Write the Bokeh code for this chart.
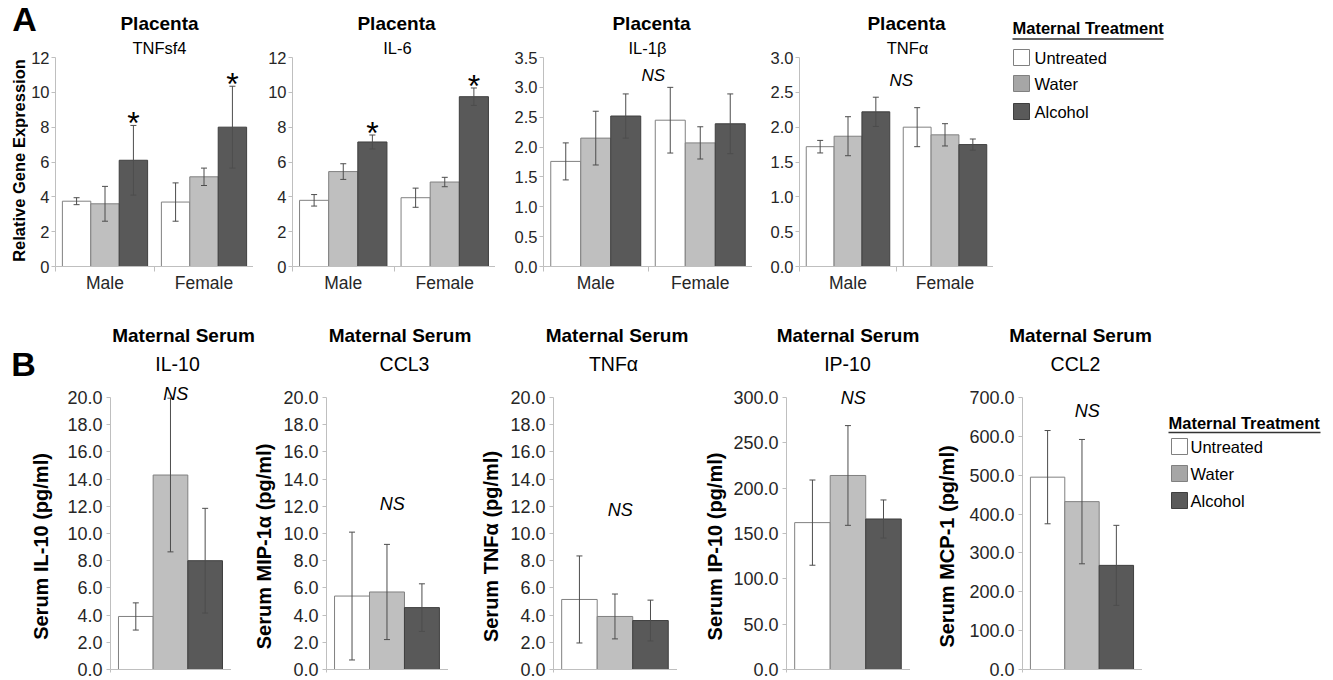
import math
from bokeh.plotting import figure
from bokeh.models import (ColumnDataSource, Whisker, TeeHead, Label, Range1d,
                          FixedTicker, PrintfTickFormatter)
from bokeh.layouts import row, column
from bokeh.embed import file_html
from bokeh.resources import INLINE
from bokeh.core.properties import value

# ---------------- data ----------------
treatments = ["Untreated", "Water", "Alcohol"]
sexes = ["Male", "Female"]

# Placenta, relative gene expression; order Male(U,W,A), Female(U,W,A)
placenta_genes = ["TNFsf4", "IL-6", "IL-1β", "TNFα"]
tnfsf4_mean = [3.75, 3.6, 6.1, 3.7, 5.15, 8.0]
tnfsf4_err = [0.2, 1.0, 2.0, 1.1, 0.5, 2.35]
il6_mean = [3.8, 5.45, 7.15, 3.95, 4.85, 9.75]
il6_err = [0.33, 0.45, 0.4, 0.55, 0.27, 0.5]
il1b_mean = [1.76, 2.15, 2.52, 2.45, 2.07, 2.39]
il1b_err = [0.31, 0.45, 0.37, 0.55, 0.27, 0.5]
tnfa_plac_mean = [1.72, 1.87, 2.22, 2.0, 1.89, 1.75]
tnfa_plac_err = [0.09, 0.28, 0.21, 0.28, 0.16, 0.08]
placenta_sig = [
    [False, False, True, False, False, True],
    [False, False, True, False, False, True],
    [False] * 6,
    [False] * 6,
]
placenta_ns = [False, False, True, True]
placenta_yticks = [
    [0, 2, 4, 6, 8, 10, 12],
    [0, 2, 4, 6, 8, 10, 12],
    [0.0, 0.5, 1.0, 1.5, 2.0, 2.5, 3.0, 3.5],
    [0.0, 0.5, 1.0, 1.5, 2.0, 2.5, 3.0],
]
placenta_fmt = ["%d", "%d", "%.1f", "%.1f"]
placenta_ylabel = "Relative Gene Expression"

# Maternal serum (pg/ml); order U, W, A
serum_cytokines = ["IL-10", "CCL3", "TNFα", "IP-10", "CCL2"]
serum_ylabels = ["Serum IL-10 (pg/ml)", "Serum MIP-1α (pg/ml)", "Serum TNFα (pg/ml)",
                 "Serum IP-10 (pg/ml)", "Serum MCP-1 (pg/ml)"]
il10_mean = [3.9, 14.3, 8.0]
il10_err = [1.0, 5.65, 3.85]
ccl3_mean = [5.4, 5.7, 4.55]
ccl3_err = [4.7, 3.5, 1.75]
tnfa_serum_mean = [5.15, 3.9, 3.6]
tnfa_serum_err = [3.2, 1.65, 1.5]
ip10_mean = [162, 214, 166]
ip10_err = [47, 55, 21]
ccl2_mean = [495, 432, 268]
ccl2_err = [120, 160, 103]
serum_yticks = [
    [0, 2, 4, 6, 8, 10, 12, 14, 16, 18, 20],
    [0, 2, 4, 6, 8, 10, 12, 14, 16, 18, 20],
    [0, 2, 4, 6, 8, 10, 12, 14, 16, 18, 20],
    [0, 50, 100, 150, 200, 250, 300],
    [0, 100, 200, 300, 400, 500, 600, 700],
]
legend_title = "Maternal Treatment"

# ---------------- styles / layout (pixels) ----------------
FONT = "Liberation Sans"
bar_fill = ["#ffffff", "#bfbfbf", "#595959"]
bar_line = ["#808080", "#808080", "#3f3f3f"]
legend_fill = ["#ffffff", "#a6a6a6", "#5a5a5a"]
err_color = "#4d4d4d"
axis_color = "#bfbfbf"
tick_text = "#262626"
PAGE_W = 1330

HEAD_A_H = 37
ROWA_TOP, ROWA_FB, ROWA_H, ROWA_BB, TICKTOP_A = 37, 266, 263, 34, 57
STRIP_A = 28
top_frames = [(25, 200), (39, 203), (48, 209), (47, 194)]   # (left border, frame width)
top_title_x = [159, 396, 651, 906]
top_sub_dx = [104, 105, 104, 108]
top_ns_y = [None, None, 3.2, 2.67]
BW = 0.287

HEAD_B_TOP, HEAD_B_H = 300, 83
ROWB_TOP, ROWB_FB, ROWB_BB, TICKTOP_B = 383, 669, 10, 397
ROWB_H = ROWB_FB - ROWB_TOP + ROWB_BB
strips_b = [55, 49, 57, 53, 55]
bot_frames = [(55, 121), (46, 122), (48, 124), (55, 125), (57, 120)]
bot_title_x = [183, 399.5, 616.5, 847.5, 1080]
bot_sub_x = [177, 404, 613, 847, 1075]
bot_ylabel_x = [40, 263, 490, 714, 946]
bot_ns_y = [20.25, 12.2, 11.7, 300, 664]
BOT_XR = (-0.73, 2.76)


def txt(p, xs, ys, texts, size, style="normal", align="center", angle=0.0, color="#000000"):
    p.text(x=xs, y=ys, text=texts, text_font=value(FONT), text_font_size=size,
           text_font_style=style, text_align=align, text_baseline="middle",
           angle=angle, text_color=color)


def blank_fig(x0, width, top, fb, height, bb):
    """figure whose frame spans its full width; x = page x, y = fb - page y"""
    p = figure(width=width, height=height, x_range=Range1d(x0, x0 + width),
               y_range=Range1d(0, fb - top), output_backend="svg", toolbar_location=None,
               min_border_left=0, min_border_right=0, min_border_top=0,
               min_border_bottom=bb, outline_line_color=None,
               x_axis_location=None, y_axis_location=None)
    p.grid.visible = False
    return p


def style_axes(p, tick_size):
    for ax in p.axis:
        ax.axis_line_color = axis_color
        ax.major_tick_line_color = axis_color
        ax.minor_tick_line_color = axis_color
        ax.major_label_text_font = FONT
        ax.major_label_text_color = tick_text
        ax.major_label_text_font_size = tick_size


def add_whiskers(p, src):
    w = Whisker(base="x", upper="upper", lower="lower", source=src,
                line_color=err_color, line_width=1, level="annotation",
                upper_head=TeeHead(size=6, line_color=err_color, line_width=1),
                lower_head=TeeHead(size=6, line_color=err_color, line_width=1))
    p.add_layout(w)


def placenta_panel(i, means, errs):
    L, FW = top_frames[i]
    ticks = placenta_yticks[i]
    yend = ticks[-1] * (ROWA_FB - ROWA_TOP) / (ROWA_FB - TICKTOP_A)
    p = figure(width=L + FW, height=ROWA_H, x_range=Range1d(0, len(sexes)),
               y_range=Range1d(0, yend), output_backend="svg", toolbar_location=None,
               min_border_left=L, min_border_right=0, min_border_top=0,
               min_border_bottom=ROWA_BB, outline_line_color=None)
    p.grid.visible = False
    xs = [g + 0.5 + (t - 1) * BW for g in range(len(sexes)) for t in range(len(treatments))]
    src = ColumnDataSource(dict(
        x=xs, top=means,
        upper=[m + e for m, e in zip(means, errs)],
        lower=[m - e for m, e in zip(means, errs)],
        fill=bar_fill * len(sexes), line=bar_line * len(sexes)))
    p.vbar(x="x", top="top", bottom=0, width=BW, fill_color="fill", line_color="line",
           line_width=1, source=src)
    add_whiskers(p, src)
    sig = placenta_sig[i]
    sx = [x for x, s in zip(xs, sig) if s]
    sy = [m + e for m, e, s in zip(means, errs, sig) if s]
    if sx:
        p.text(x=sx, y=sy, text=["*"] * len(sx), text_font=value(FONT),
               text_font_size="32px", text_align="center", text_baseline="alphabetic",
               y_offset=-2, text_color="#000000")
    p.yaxis.ticker = FixedTicker(ticks=ticks)
    p.yaxis.formatter = PrintfTickFormatter(format=placenta_fmt[i])
    p.yaxis.bounds = (0, ticks[-1])
    p.yaxis.major_tick_out = 4
    p.yaxis.major_tick_in = 0
    p.yaxis.minor_tick_out = 0
    p.yaxis.minor_tick_in = 0
    p.yaxis.major_label_standoff = 2
    centers = [g + 0.5 for g in range(len(sexes))]
    p.xaxis.ticker = FixedTicker(ticks=centers, minor_ticks=list(range(len(sexes) + 1)))
    p.xaxis.major_label_overrides = {c: s for c, s in zip(centers, sexes)}
    p.xaxis.major_tick_out = 0
    p.xaxis.major_tick_in = 0
    p.xaxis.minor_tick_out = 5
    p.xaxis.minor_tick_in = 0
    p.xaxis.major_label_standoff = 1
    style_axes(p, "16.5px")
    p.xaxis.major_label_text_font_size = "17.5px"
    p.add_layout(Label(x=top_sub_dx[i], y=ROWA_FB - 47, x_units="screen", y_units="screen",
                       text=placenta_genes[i], text_font=FONT, text_font_size="16.5px",
                       text_align="center", text_baseline="middle", text_color="#000000"))
    if placenta_ns[i]:
        p.add_layout(Label(x=1.05, y=top_ns_y[i], text="NS", text_font=FONT,
                           text_font_size="17px", text_font_style="italic",
                           text_align="center", text_baseline="middle", text_color="#000000"))
    return p


def serum_panel(i, means, errs):
    L, FW = bot_frames[i]
    ticks = serum_yticks[i]
    yend = ticks[-1] * (ROWB_FB - ROWB_TOP) / (ROWB_FB - TICKTOP_B)
    p = figure(width=L + FW, height=ROWB_H, x_range=Range1d(*BOT_XR),
               y_range=Range1d(0, yend), output_backend="svg", toolbar_location=None,
               min_border_left=L, min_border_right=0, min_border_top=0,
               min_border_bottom=ROWB_BB, outline_line_color=None)
    p.grid.visible = False
    xs = list(range(len(treatments)))
    src = ColumnDataSource(dict(
        x=xs, top=means,
        upper=[m + e for m, e in zip(means, errs)],
        lower=[m - e for m, e in zip(means, errs)],
        fill=bar_fill, line=bar_line))
    p.vbar(x="x", top="top", bottom=0, width=1.0, fill_color="fill", line_color="line",
           line_width=1, source=src)
    add_whiskers(p, src)
    p.yaxis.ticker = FixedTicker(ticks=ticks)
    p.yaxis.formatter = PrintfTickFormatter(format="%.1f")
    p.yaxis.bounds = (0, ticks[-1])
    p.yaxis.major_tick_out = 4
    p.yaxis.major_tick_in = 0
    p.yaxis.minor_tick_out = 0
    p.yaxis.minor_tick_in = 0
    p.yaxis.major_label_standoff = 4
    p.xaxis.ticker = FixedTicker(ticks=[], minor_ticks=list(BOT_XR))
    p.xaxis.major_tick_out = 0
    p.xaxis.major_tick_in = 0
    p.xaxis.minor_tick_out = 3
    p.xaxis.minor_tick_in = 0
    p.xaxis.major_label_standoff = 0
    style_axes(p, "18px")
    p.xaxis.major_label_text_font_size = "0px"
    p.add_layout(Label(x=1.15, y=bot_ns_y[i], text="NS", text_font=FONT,
                       text_font_size="18px", text_font_style="italic",
                       text_align="center", text_baseline="middle", text_color="#000000"))
    return p


def legend_fig(x0, width, top, fb, height, bb, sw_x, sw_y, lab_x, ul):
    p = blank_fig(x0, width, top, fb, height, bb)
    p.rect(x=[sw_x] * 3, y=[fb - y for y in sw_y], width=16, height=16,
           width_units="screen", height_units="screen",
           fill_color=legend_fill, line_color=bar_line, line_width=1)
    txt(p, [lab_x] * 3, [fb - y for y in sw_y], treatments, "16.5px", align="left")
    ux0, ux1, uy = ul
    p.segment(x0=[ux0], y0=[fb - uy], x1=[ux1], y1=[fb - uy],
              line_color="#333333", line_width=1.5)
    return p


# ---------------- header A ----------------
headA = blank_fig(0, PAGE_W, 0, HEAD_A_H, HEAD_A_H, 0)
txt(headA, [24], [HEAD_A_H - 18.5], ["A"], "34px", "bold")
txt(headA, top_title_x, [HEAD_A_H - 23] * 4, ["Placenta"] * 4, "19px", "bold")
txt(headA, [1012], [HEAD_A_H - 27.5], [legend_title], "16.5px", "bold", align="left")

# ---------------- row A ----------------
stripA = blank_fig(0, STRIP_A, ROWA_TOP, ROWA_FB, ROWA_H, ROWA_BB)
txt(stripA, [18.5], [ROWA_FB - 160], [placenta_ylabel], "16.5px", "bold", angle=math.pi / 2)
plac_means = [tnfsf4_mean, il6_mean, il1b_mean, tnfa_plac_mean]
plac_errs = [tnfsf4_err, il6_err, il1b_err, tnfa_plac_err]
top_figs = [placenta_panel(i, m, e) for i, (m, e) in enumerate(zip(plac_means, plac_errs))]
xa = STRIP_A + sum(L + W for L, W in top_frames)
legA = legend_fig(xa, PAGE_W - xa, ROWA_TOP, ROWA_FB, ROWA_H, ROWA_BB,
                  1021, [57, 83, 111], 1034, (1012, 1163, 38.5))
rowA = row(stripA, *top_figs, legA)

# ---------------- header B ----------------
headB = blank_fig(0, PAGE_W, HEAD_B_TOP, HEAD_B_TOP + HEAD_B_H, HEAD_B_H, 0)
hb = HEAD_B_TOP + HEAD_B_H
txt(headB, [23], [hb - 363.5], ["B"], "34px", "bold")
txt(headB, bot_title_x, [hb - 335] * 5, ["Maternal Serum"] * 5, "19px", "bold")
txt(headB, bot_sub_x, [hb - 363] * 5, serum_cytokines, "19.5px")

# ---------------- row B ----------------
ser_means = [il10_mean, ccl3_mean, tnfa_serum_mean, ip10_mean, ccl2_mean]
ser_errs = [il10_err, ccl3_err, tnfa_serum_err, ip10_err, ccl2_err]
rowB_children = []
x0 = 0
for i, (m, e) in enumerate(zip(ser_means, ser_errs)):
    s = blank_fig(x0, strips_b[i], ROWB_TOP, ROWB_FB, ROWB_H, ROWB_BB)
    txt(s, [bot_ylabel_x[i]], [ROWB_FB - 546], [serum_ylabels[i]], "20px", "bold",
        angle=math.pi / 2)
    rowB_children.append(s)
    x0 += strips_b[i]
    rowB_children.append(serum_panel(i, m, e))
    x0 += sum(bot_frames[i])
legB = legend_fig(x0, PAGE_W - x0, ROWB_TOP, ROWB_FB, ROWB_H, ROWB_BB,
                  1179, [446, 473, 500], 1190, (1168, 1320, 432))
txt(legB, [1168], [ROWB_FB - 422], [legend_title], "16.5px", "bold", align="left")
rowB_children.append(legB)
rowB = row(*rowB_children)

layout = column(headA, rowA, headB, rowB)

open("out.html", "w").write(file_html(layout, INLINE))
